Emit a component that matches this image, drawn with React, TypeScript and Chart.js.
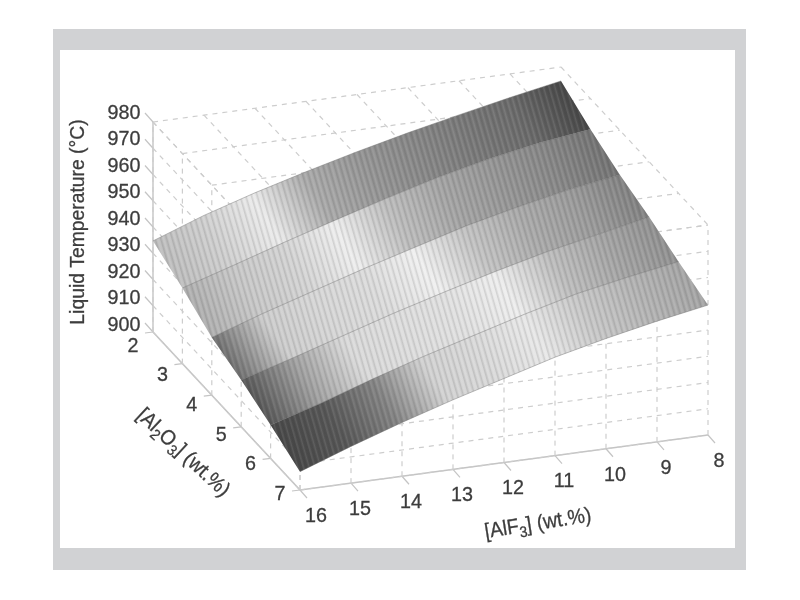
import React, { useEffect, useRef } from "react";
import { Chart, registerables } from "chart.js";

Chart.register(...registerables);

const alf3Ticks = [16, 15, 14, 13, 12, 11, 10, 9, 8];
const al2o3Ticks = [2, 3, 4, 5, 6, 7];
const temperatureTicks = [900, 910, 920, 930, 940, 950, 960, 970, 980];

const tempAl2o3_2 = [934.7, 941.8, 947.8, 953.2, 958.2, 962.8, 967, 971, 974.7];
const tempAl2o3_3 = [928.8, 934.8, 941, 946.8, 952.5, 957.8, 962.2, 965.8, 968.3];
const tempAl2o3_4 = [922, 928.5, 934.5, 940.5, 946, 951.5, 956, 960, 963];
const tempAl2o3_5 = [917.8, 923.5, 929.5, 935.5, 941, 946.2, 951, 955, 959];
const tempAl2o3_6 = [912.7, 918.5, 925, 931, 936.5, 942, 947, 950.7, 954];
const tempAl2o3_7 = [907, 914, 920.5, 926.5, 932, 937.5, 942, 946, 949.5];
const surfaceRows = [tempAl2o3_2, tempAl2o3_3, tempAl2o3_4, tempAl2o3_5, tempAl2o3_6, tempAl2o3_7];

const band1Grey = [190, 208, 235, 170, 150, 135, 120, 105, 70];
const band2Grey = [175, 200, 212, 238, 190, 165, 150, 135, 115];
const band3Grey = [110, 205, 215, 220, 240, 195, 170, 155, 130];
const band4Grey = [85, 160, 218, 222, 225, 238, 190, 165, 145];
const band5Grey = [70, 85, 130, 210, 218, 232, 200, 180, 165];
const bandGreys = [band1Grey, band2Grey, band3Grey, band4Grey, band5Grey];

const project = (a: number, b: number, t: number) => ({
  x: 300 + (16 - a) * 51 - (7 - b) * 29.4,
  y: 490 - (16 - a) * 6.875 - (7 - b) * 31.6 - (t - 900) * 2.625,
});

const segment = (p: any, q: any, color: string, dash: number[], width: number) => ({
  data: [p, q],
  showLine: true,
  pointRadius: 0,
  borderColor: color,
  borderWidth: width,
  borderDash: dash,
  order: 2,
  clip: false,
});

const GRID = "#cdcdcd";
const AXIS = "#c4c4c4";
const DASH = [5, 5];

function backDatasets() {
  const out: any[] = [];
  const aMin = 8, aMax = 16, bMin = 2, bMax = 7, tMin = 900, tMax = 980;
  alf3Ticks.forEach((a) => {
    out.push(segment(project(a, bMin, tMax), project(a, bMax, tMax), GRID, DASH, 1.2));
    out.push(segment(project(a, bMax, tMin), project(a, bMax, tMax), GRID, DASH, 1.2));
  });
  al2o3Ticks.forEach((b) => {
    out.push(segment(project(aMax, b, tMax), project(aMin, b, tMax), GRID, DASH, 1.2));
    out.push(segment(project(aMax, b, tMin), project(aMax, b, tMax), GRID, DASH, 1.2));
  });
  temperatureTicks.forEach((t) => {
    out.push(segment(project(aMax, bMin, t), project(aMax, bMax, t), GRID, DASH, 1.2));
    out.push(segment(project(aMax, bMax, t), project(aMin, bMax, t), GRID, DASH, 1.2));
    const p = project(aMax, bMin, t);
    out.push(segment(p, { x: p.x - 8, y: p.y - 9 }, AXIS, [], 1.2));
  });
  alf3Ticks.forEach((a) => {
    const p = project(a, bMax, tMin);
    out.push(segment(p, { x: p.x + 7, y: p.y + 8 }, AXIS, [], 1.2));
  });
  al2o3Ticks.forEach((b) => {
    const p = project(aMax, b, tMin);
    out.push(segment(p, { x: p.x - 8, y: p.y + 1 }, AXIS, [], 1.2));
  });
  out.push(segment(project(aMax, bMin, tMin), project(aMax, bMax, tMin), AXIS, [], 1.6));
  out.push(segment(project(aMax, bMax, tMin), project(aMin, bMax, tMin), AXIS, [], 1.6));
  out.push(segment(project(aMax, bMin, tMin), project(aMax, bMin, tMax), AXIS, [], 1.4));
  return out;
}

type Run = { text: string; sub?: boolean };

function drawRuns(ctx: CanvasRenderingContext2D, cx: number, cy: number, angle: number, runs: Run[], size: number, squeeze: number) {
  const font = (s: number) => `${s}px "Liberation Sans"`;
  let total = 0;
  runs.forEach((r) => {
    ctx.font = font(r.sub ? size * 0.72 : size);
    total += ctx.measureText(r.text).width;
  });
  ctx.save();
  ctx.translate(cx, cy);
  ctx.rotate((angle * Math.PI) / 180);
  ctx.scale(squeeze, 1);
  ctx.textAlign = "left";
  ctx.textBaseline = "middle";
  ctx.lineWidth = 0.3;
  let x = -total / 2;
  runs.forEach((r) => {
    ctx.font = font(r.sub ? size * 0.72 : size);
    const y = r.sub ? size * 0.3 : 0;
    ctx.fillText(r.text, x, y);
    ctx.strokeText(r.text, x, y);
    x += ctx.measureText(r.text).width;
  });
  ctx.restore();
}

const surfacePlugin = {
  id: "surface",
  beforeDraw(chart: any) {
    const c = chart.ctx;
    c.save();
    c.fillStyle = "#ffffff";
    c.fillRect(0, 0, 800, 600);
    c.fillStyle = "#d1d2d4";
    c.fillRect(53, 29, 693, 541);
    c.fillStyle = "#ffffff";
    c.fillRect(60, 50, 675, 498);
    c.restore();
  },
  beforeDatasetDraw(chart: any, args: any) {
    if (args.index !== surfaceRows.length - 1) return;
    const c = chart.ctx as CanvasRenderingContext2D;
    const tile = document.createElement("canvas");
    tile.width = 11;
    tile.height = 8;
    const tc = tile.getContext("2d")!;
    tc.fillStyle = "rgba(60,60,60,0.15)";
    tc.fillRect(0, 0, 1.6, 8);
    tc.fillRect(5.5, 0, 1.6, 8);
    tc.fillStyle = "rgba(255,255,255,0.10)";
    tc.fillRect(2.6, 0, 1.6, 8);
    tc.fillRect(8.1, 0, 1.6, 8);
    const pattern = c.createPattern(tile, "repeat")!;
    pattern.setTransform(new DOMMatrix().rotate(-16));

    bandGreys.forEach((greys, i) => {
      const top = chart.getDatasetMeta(i).data;
      const bot = chart.getDatasetMeta(i + 1).data;
      const path = () => {
        c.beginPath();
        top.forEach((p: any, j: number) => (j ? c.lineTo(p.x, p.y) : c.moveTo(p.x, p.y)));
        for (let j = bot.length - 1; j >= 0; j--) c.lineTo(bot[j].x, bot[j].y);
        c.closePath();
      };
      const p0 = { x: (top[0].x + bot[0].x) / 2, y: (top[0].y + bot[0].y) / 2 };
      const last = top.length - 1;
      const p1 = { x: (top[last].x + bot[last].x) / 2, y: (top[last].y + bot[last].y) / 2 };
      const dl = Math.hypot(top[0].x - bot[0].x, top[0].y - bot[0].y);
      const nx = (bot[0].y - top[0].y) / dl;
      const ny = -(bot[0].x - top[0].x) / dl;
      const s = (p1.x - p0.x) * nx + (p1.y - p0.y) * ny;
      const g = c.createLinearGradient(p0.x, p0.y, p0.x + nx * s, p0.y + ny * s);
      greys.forEach((v, j) => g.addColorStop(j / (greys.length - 1), `rgb(${v},${v},${v})`));
      path();
      c.fillStyle = g;
      c.fill();
      c.fillStyle = pattern;
      c.fill();
    });
  },
  afterDraw(chart: any) {
    const c = chart.ctx as CanvasRenderingContext2D;
    c.save();
    c.fillStyle = "#3d3d3d";
    c.strokeStyle = "#3d3d3d";
    temperatureTicks.forEach((t) => {
      drawRuns(c, 124, 113 + (980 - t) * 2.65, 0, [{ text: String(t) }], 21, 0.94);
    });
    al2o3Ticks.forEach((b) => {
      const p = project(16, b, 900);
      drawRuns(c, p.x - 20, p.y + 14 - (b - 2) * 2, 0, [{ text: String(b) }], 21, 0.94);
    });
    alf3Ticks.forEach((a) => {
      const p = project(a, 7, 900);
      drawRuns(c, p.x + (a === 16 ? 16 : a === 8 ? 11 : 9), p.y + 26, 0, [{ text: String(a) }], 21, 0.94);
    });
    drawRuns(c, 78, 222, -90, [{ text: "Liquid Temperature (°C)" }], 21, 0.92);
    drawRuns(c, 183, 453, 43, [{ text: "[Al" }, { text: "2", sub: true }, { text: "O" }, { text: "3", sub: true }, { text: "] (wt.%)" }], 21, 0.92);
    drawRuns(c, 538, 524, -9, [{ text: "[AlF" }, { text: "3", sub: true }, { text: "] (wt.%)" }], 21, 0.92);
    c.restore();
  },
};

export default function App() {
  const ref = useRef<HTMLCanvasElement>(null);
  useEffect(() => {
    const rows = surfaceRows.map((row, i) => ({
      label: `[Al2O3] = ${al2o3Ticks[i]}`,
      data: row.map((t, j) => project(alf3Ticks[j], al2o3Ticks[i], t)),
      showLine: true,
      pointRadius: 0,
      borderColor: i === 0 || i === surfaceRows.length - 1 ? "rgba(110,110,110,0.45)" : "rgba(90,90,90,0.4)",
      borderWidth: 1,
      order: 1,
      clip: false,
    }));
    const chart = new Chart(ref.current!, {
      type: "scatter",
      data: { datasets: [...rows, ...backDatasets()] as any },
      options: {
        responsive: false,
        animation: false,
        layout: { padding: 0 },
        events: [],
        plugins: { legend: { display: false }, tooltip: { enabled: false }, title: { display: false } },
        scales: {
          x: { type: "linear", min: 0, max: 800, display: false },
          y: { type: "linear", min: 0, max: 600, reverse: true, display: false },
        },
      },
      plugins: [surfacePlugin as any],
    });
    return () => chart.destroy();
  }, []);
  return (
    <div style={{ position: "absolute", left: 0, top: 0, width: 800, height: 600 }}>
      <canvas ref={ref} width={800} height={600} style={{ display: "block", filter: "blur(0.6px)" }} />
    </div>
  );
}
